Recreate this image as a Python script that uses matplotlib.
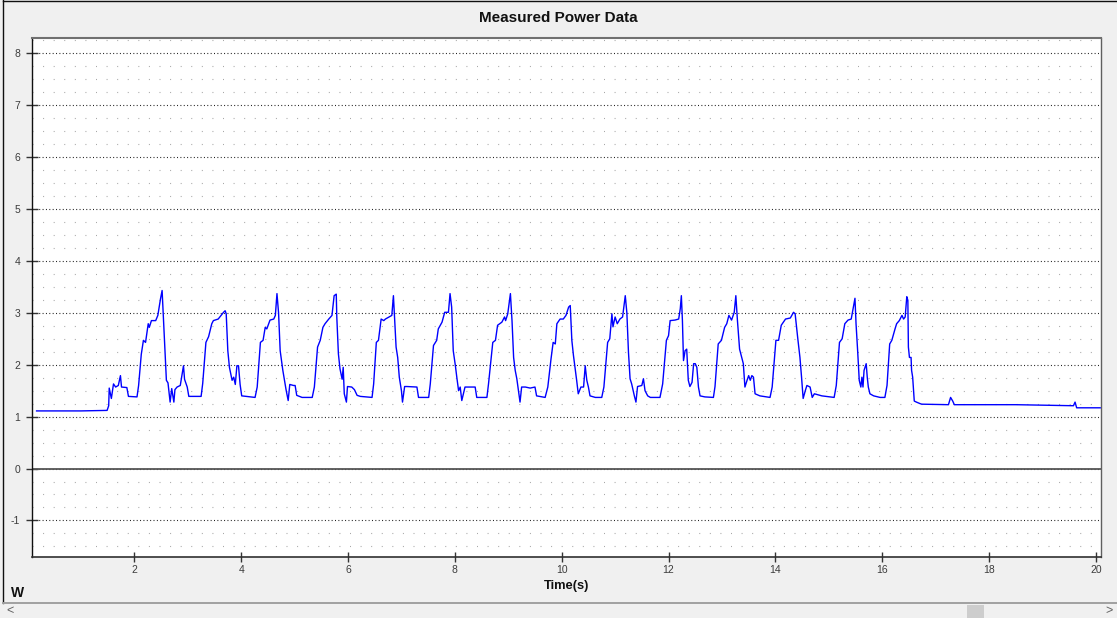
import matplotlib
matplotlib.use("Agg")
import matplotlib.pyplot as plt
from matplotlib.patches import Rectangle

# ── Data (time in s, power in W) ─────────────────────────────────────────────
baseline_t = [0.17, 0.60, 1.00, 1.49]
baseline_w = [1.11, 1.11, 1.11, 1.12]

cycles_t = [
    1.52, 1.53, 1.57, 1.61, 1.65, 1.70, 1.74, 1.76, 1.86, 1.89, 2.05, 2.08, 2.13, 2.17, 2.21, 2.26,
    2.28, 2.32, 2.40, 2.44, 2.49, 2.52, 2.54, 2.57, 2.60, 2.63, 2.67, 2.70, 2.74, 2.76, 2.80, 2.86,
    2.92, 2.94, 2.99, 3.02, 3.25, 3.28, 3.34, 3.39, 3.45, 3.48, 3.57, 3.67, 3.70, 3.72, 3.75, 3.78,
    3.83, 3.86, 3.89, 3.92, 3.95, 3.98, 4.01,
    4.26, 4.30, 4.36, 4.41, 4.45, 4.48, 4.54, 4.61, 4.64, 4.67, 4.70, 4.73, 4.78, 4.81, 4.84, 4.88,
    4.91, 4.98, 5.01, 5.04, 5.14, 5.33,
    5.37, 5.43, 5.48, 5.53, 5.57, 5.64, 5.70, 5.74, 5.78, 5.79, 5.82, 5.85, 5.89, 5.91, 5.93, 5.97,
    5.99, 6.07, 6.12, 6.17, 6.23, 6.45,
    6.48, 6.53, 6.57, 6.62, 6.67, 6.70, 6.82, 6.85, 6.87, 6.90, 6.93, 6.96, 7.00, 7.02, 7.06, 7.10,
    7.29, 7.32, 7.51,
    7.54, 7.60, 7.66, 7.69, 7.76, 7.81, 7.88, 7.91, 7.94, 7.97, 8.01, 8.04, 8.07, 8.10, 8.13, 8.19,
    8.38, 8.41, 8.60,
    8.63, 8.71, 8.76, 8.80, 8.88, 8.93, 8.95, 8.99, 9.04, 9.07, 9.10, 9.13, 9.16, 9.19, 9.22, 9.25,
    9.32, 9.41, 9.50, 9.53, 9.69,
    9.74, 9.80, 9.84, 9.88, 9.91, 9.97, 10.03, 10.08, 10.13, 10.16, 10.19, 10.22, 10.25, 10.28, 10.31,
    10.36, 10.41, 10.44, 10.47, 10.50, 10.53, 10.63, 10.75,
    10.79, 10.86, 10.90, 10.94, 10.96, 11.00, 11.04, 11.09, 11.14, 11.19, 11.22, 11.25, 11.28, 11.31,
    11.36, 11.39, 11.42, 11.50, 11.53, 11.56, 11.61, 11.66, 11.84,
    11.89, 11.96, 12.00, 12.03, 12.12, 12.19, 12.22, 12.24, 12.26, 12.28, 12.31, 12.34, 12.37, 12.40,
    12.44, 12.47, 12.50, 12.53, 12.56, 12.59, 12.68, 12.84,
    12.87, 12.93, 12.99, 13.05, 13.09, 13.13, 13.18, 13.23, 13.26, 13.29, 13.33, 13.37, 13.40, 13.43,
    13.47, 13.50, 13.53, 13.56, 13.59, 13.62, 13.71, 13.90,
    13.94, 14.01, 14.06, 14.11, 14.15, 14.19, 14.28, 14.34, 14.37, 14.42, 14.46, 14.49, 14.52, 14.56,
    14.59, 14.65, 14.69, 14.73, 14.87, 15.10,
    15.14, 15.20, 15.25, 15.30, 15.36, 15.42, 15.45, 15.49, 15.51, 15.54, 15.57, 15.60, 15.62, 15.64,
    15.66, 15.70, 15.72, 15.74, 15.77, 15.84, 15.96, 16.05,
    16.09, 16.14, 16.18, 16.24, 16.27, 16.32, 16.37, 16.40, 16.43, 16.46, 16.48, 16.49, 16.51, 16.54,
    16.55, 16.57, 16.60, 16.64, 16.71, 16.74,
]
cycles_w = [
    1.21, 1.55, 1.35, 1.63, 1.57, 1.60, 1.79, 1.57, 1.56, 1.39, 1.38, 1.60, 2.20, 2.47, 2.43, 2.79,
    2.72, 2.85, 2.85, 2.95, 3.27, 3.43, 3.00, 2.34, 1.70, 1.65, 1.28, 1.54, 1.28, 1.52, 1.57, 1.60,
    1.98, 1.72, 1.57, 1.39, 1.39, 1.64, 2.43, 2.54, 2.79, 2.85, 2.88, 3.01, 3.04, 2.98, 2.27, 1.95,
    1.70, 1.76, 1.62, 1.98, 1.98, 1.62, 1.40,
    1.37, 1.57, 2.43, 2.47, 2.72, 2.69, 2.86, 2.88, 2.95, 3.37, 3.00, 2.27, 1.89, 1.70, 1.52, 1.31,
    1.62, 1.60, 1.60, 1.41, 1.37, 1.37,
    1.57, 2.34, 2.47, 2.72, 2.79, 2.88, 2.95, 3.33, 3.36, 2.92, 2.21, 1.92, 1.72, 1.95, 1.44, 1.28,
    1.58, 1.57, 1.52, 1.41, 1.39, 1.37,
    1.63, 2.43, 2.47, 2.88, 2.85, 2.88, 2.95, 3.33, 2.92, 2.34, 2.14, 1.76, 1.50, 1.28, 1.58, 1.58,
    1.57, 1.37, 1.37,
    1.63, 2.37, 2.47, 2.69, 2.82, 3.01, 3.01, 3.37, 3.11, 2.27, 1.98, 1.73, 1.50, 1.57, 1.31, 1.57,
    1.57, 1.37, 1.37,
    1.63, 2.43, 2.47, 2.76, 2.82, 2.92, 2.85, 2.98, 3.37, 2.85, 2.14, 1.89, 1.73, 1.50, 1.28, 1.57,
    1.57, 1.55, 1.57, 1.40, 1.37,
    1.57, 2.11, 2.43, 2.40, 2.79, 2.88, 2.88, 2.95, 3.11, 3.14, 2.47, 2.18, 1.94, 1.70, 1.44,
    1.57, 1.57, 1.98, 1.70, 1.57, 1.40, 1.37, 1.37,
    1.57, 2.43, 2.50, 2.98, 2.73, 2.92, 2.79, 2.88, 2.92, 3.33, 3.00, 2.24, 1.73, 1.63,
    1.40, 1.28, 1.58, 1.60, 1.73, 1.50, 1.40, 1.37, 1.37,
    1.63, 2.47, 2.56, 2.85, 2.86, 2.88, 3.08, 3.33, 2.85, 2.08, 2.27, 2.30, 1.70, 1.58,
    1.66, 2.02, 2.02, 1.95, 1.57, 1.40, 1.38, 1.37,
    1.58, 2.40, 2.47, 2.72, 2.79, 2.95, 2.86, 3.01, 3.33, 2.85, 2.30, 2.14, 2.02, 1.57,
    1.70, 1.79, 1.70, 1.79, 1.76, 1.44, 1.40, 1.37,
    1.57, 2.47, 2.47, 2.76, 2.82, 2.88, 2.90, 3.01, 2.98, 2.50, 2.14, 1.76, 1.35, 1.50,
    1.60, 1.57, 1.37, 1.44, 1.40, 1.37,
    1.60, 2.43, 2.50, 2.79, 2.86, 2.88, 3.05, 3.28, 2.79, 2.27, 1.70, 1.57, 1.76, 1.57,
    1.89, 2.02, 1.76, 1.57, 1.44, 1.40, 1.37, 1.37,
    1.60, 2.40, 2.47, 2.69, 2.79, 2.85, 2.95, 2.88, 2.92, 3.31, 3.24, 2.34, 2.14, 2.14,
    1.89, 1.76, 1.30, 1.28, 1.25, 1.24,
]

tail_t = [17.24, 17.26, 17.28, 17.32, 17.35, 18.50, 19.58, 19.61, 19.64, 20.08]
tail_w = [1.23, 1.30, 1.37, 1.30, 1.23, 1.23, 1.21, 1.28, 1.17, 1.17]

x_ticks = [2, 4, 6, 8, 10, 12, 14, 16, 18, 20]
y_ticks = [-1, 0, 1, 2, 3, 4, 5, 6, 7, 8]
y_minor = [v / 4 for v in range(-6, 34)]

time_s = baseline_t + cycles_t + tail_t
power_w = baseline_w + cycles_w + tail_w

# ── Figure ────────────────────────────────────────────────────────────────────
plt.rcParams["font.family"] = ["Liberation Sans", "DejaVu Sans"]
plt.rcParams["lines.scale_dashes"] = False
plt.rcParams["axes.unicode_minus"] = False

W, H = 1117, 618
fig = plt.figure(figsize=(W / 100, H / 100), dpi=100, facecolor="#f0f0f0")

# window chrome drawn in pixel coordinates
bg = fig.add_axes([0, 0, 1, 1], zorder=-1)
bg.set_xlim(0, W)
bg.set_ylim(H, 0)
bg.axis("off")
bg.plot([2.5, 2.5], [0, 602.5], color="#101010", lw=1.0)
bg.plot([2.5, W], [0.5, 0.5], color="#101010", lw=1.0)
bg.plot([2.5, W], [602.5, 602.5], color="#a0a0a0", lw=1.4)
bg.add_patch(Rectangle((967, 605), 17, 13, facecolor="#cdcdcd", edgecolor="none"))
bg.text(10, 611, "<", ha="center", va="center", fontsize=9, color="#606060")
bg.text(1109, 611, ">", ha="center", va="center", fontsize=9, color="#606060")

left, right, top, bottom = 32.3, 1100.7, 37.7, 557.3
ax = fig.add_axes([left / W, 1 - bottom / H, (right - left) / W, (bottom - top) / H])
ax.set_facecolor("white")

ax.plot(time_s, power_w, color="#0000ff", lw=1.0, zorder=3)
ax.axhline(0, color="#555555", lw=1.3, zorder=2)

ax.set_xlim(0.09, 20.09)
ax.set_ylim(-1.71, 8.30)
ax.set_xticks(x_ticks)
ax.set_yticks(y_ticks)
ax.set_yticks(y_minor, minor=True)

ax.grid(which="major", axis="y", color="#202020", lw=0.8, linestyle=(0, (0.72, 1.7)))
ax.grid(which="minor", axis="y", color="#a8a8a8", lw=0.8, linestyle=(0, (0.72, 6.9)))
ax.grid(which="major", axis="x", visible=False)

ax.tick_params(axis="y", which="major", direction="inout", length=8.1, width=1.0,
               color="#333333", pad=4.8, labelsize=7.5, labelcolor="#3c3c3c")
ax.tick_params(axis="x", which="major", direction="inout", length=7.5, width=1.0,
               color="#333333", pad=1.5, labelsize=7.5, labelcolor="#3c3c3c")
ax.tick_params(axis="y", which="minor", length=0)

ax.spines["top"].set_color("#707070")
ax.spines["top"].set_linewidth(1.5)
ax.spines["left"].set_color("#101010")
ax.spines["left"].set_linewidth(1.0)
ax.spines["bottom"].set_color("#303030")
ax.spines["bottom"].set_linewidth(1.2)
ax.spines["right"].set_color("#606060")
ax.spines["right"].set_linewidth(1.0)

fig.text(558.5 / W, 1 - 18 / H, "Measured Power Data", ha="center", va="center",
         fontsize=11, fontweight="bold", color="#111111")
fig.text(566.5 / W, 1 - 586 / H, "Time(s)", ha="center", va="center",
         fontsize=9.3, fontweight="bold", color="#111111")
fig.text(17.5 / W, 1 - 593 / H, "W", ha="center", va="center",
         fontsize=10, fontweight="bold", color="#111111")

fig.savefig("out.png", dpi=100, facecolor=fig.get_facecolor())
